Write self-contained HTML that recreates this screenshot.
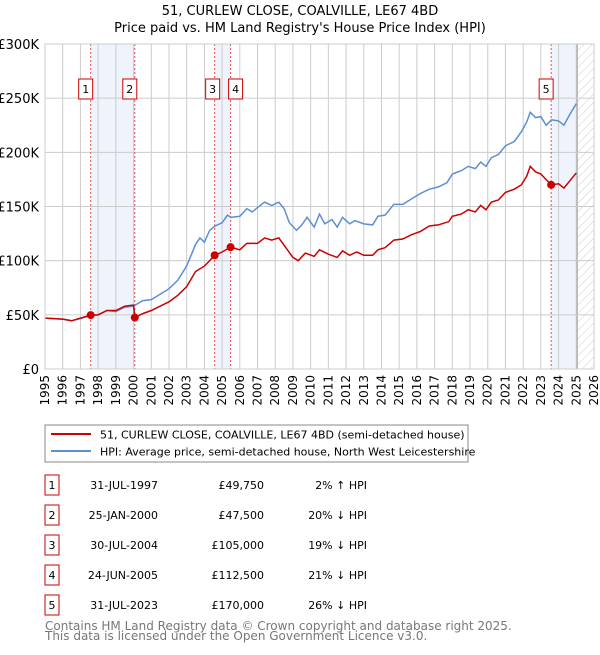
<!DOCTYPE html>
<html><head><meta charset="utf-8"><style>
body{margin:0;background:#fff;font-family:"Liberation Sans","DejaVu Sans",sans-serif}
svg text{font-family:"DejaVu Sans","Liberation Sans",sans-serif}
</style></head><body>
<svg id="c" width="600" height="650" xmlns="http://www.w3.org/2000/svg">
<defs><pattern id="hatch" width="6" height="6" patternUnits="userSpaceOnUse" patternTransform="rotate(45)"><line x1="0" y1="0" x2="0" y2="6" stroke="#ccc" stroke-width="1"/></pattern></defs>
<text x="300" y="15" text-anchor="middle" font-size="13">51, CURLEW CLOSE, COALVILLE, LE67 4BD</text>
<text x="300" y="32" text-anchor="middle" font-size="13">Price paid vs. HM Land Registry's House Price Index (HPI)</text>
<g id="plot"></g>
<rect x="45" y="425" width="423" height="37" fill="#fff" stroke="#888"/>
<line x1="51" y1="434" x2="91" y2="434" stroke="#cc0000" stroke-width="2"/>
<text x="100" y="438.5" font-size="11">51, CURLEW CLOSE, COALVILLE, LE67 4BD (semi-detached house)</text>
<line x1="51" y1="451" x2="91" y2="451" stroke="#5b8fd4" stroke-width="2"/>
<text x="100" y="455.5" font-size="11">HPI: Average price, semi-detached house, North West Leicestershire</text>
<g id="table" font-size="11"></g>
<text x="45" y="630" font-size="12" fill="#777">Contains HM Land Registry data © Crown copyright and database right 2025.</text>
<text x="45" y="640" font-size="12" fill="#777">This data is licensed under the Open Government Licence v3.0.</text>
</svg>
<script>
const yTicks=[0,50000,100000,150000,200000,250000,300000];
const yTickLabels=["£0","£50K","£100K","£150K","£200K","£250K","£300K"];
const years=[1995,1996,1997,1998,1999,2000,2001,2002,2003,2004,2005,2006,2007,2008,2009,2010,2011,2012,2013,2014,2015,2016,2017,2018,2019,2020,2021,2022,2023,2024,2025,2026];
const hpiT=[1995,1996,1996.5,1997,1997.5,1998,1998.5,1999,1999.5,2000,2000.5,2001,2001.5,2002,2002.5,2003,2003.5,2003.75,2004,2004.3,2004.6,2005,2005.3,2005.5,2006,2006.4,2006.7,2007,2007.4,2007.8,2008.2,2008.5,2008.8,2009.2,2009.5,2009.8,2010.2,2010.5,2010.8,2011.2,2011.5,2011.8,2012.2,2012.5,2013,2013.5,2013.8,2014.2,2014.7,2015.2,2015.7,2016.2,2016.7,2017.2,2017.7,2018,2018.5,2018.9,2019.3,2019.6,2019.9,2020.2,2020.6,2021,2021.5,2021.9,2022.2,2022.4,2022.7,2023,2023.3,2023.6,2024,2024.3,2024.6,2025];
const hpiV=[47,46,44.5,46.5,49,50,54,53,57,58,63,64,69,74,82,95,115,121,117,128,132,135,142,140,141,148,145,149,154,151,154,148,135,128,133,140,131,143,134,138,131,140,134,137,134,133,141,142,152,152,157,162,166,168,172,180,183,187,185,191,187,195,198,206,210,219,228,237,232,233,225,230,229,225,234,245];
const priceT=[1995,1996,1996.5,1997,1997.58,1998,1998.5,1999,1999.5,2000,2000.07,2000.5,2001,2001.5,2002,2002.5,2003,2003.5,2004,2004.3,2004.58,2005,2005.48,2006,2006.4,2007,2007.4,2007.8,2008.2,2008.6,2009,2009.3,2009.7,2010.2,2010.5,2011,2011.5,2011.8,2012.2,2012.6,2013,2013.5,2013.8,2014.2,2014.7,2015.2,2015.7,2016.2,2016.7,2017.2,2017.8,2018,2018.5,2018.9,2019.3,2019.6,2019.9,2020.2,2020.6,2021,2021.5,2021.9,2022.2,2022.4,2022.7,2023,2023.58,2024,2024.3,2024.7,2025];
const priceV=[47,46,44.5,47,49.75,50,54,54,58,59,47.5,51,54,58,62,68,76,90,95,100,105,108,112.5,110,116,116,121,119,121,112,103,100,107,104,110,106,103,109,105,108,105,105,110,112,119,120,124,127,132,133,136,141,143,147,145,151,147,154,156,163,166,170,178,187,182,180,170,171,167,175,181];
const saleT=[1997.58,2000.07,2004.58,2005.48,2023.58];
const saleV=[49750,47500,105000,112500,170000];
const saleDates=["31-JUL-1997","25-JAN-2000","30-JUL-2004","24-JUN-2005","31-JUL-2023"];
const salePrices=["£49,750","£47,500","£105,000","£112,500","£170,000"];
const saleHpi=["2% ↑ HPI","20% ↓ HPI","19% ↓ HPI","21% ↓ HPI","26% ↓ HPI"];
const dataEnd=2025.05;

const NS="http://www.w3.org/2000/svg";
const X0=45,X1=594,Y0=369,Y1=44;
const x=t=>X0+(t-1995)/(2026-1995)*(X1-X0);
const y=v=>Y0-v/300000*(Y0-Y1);
function mk(tag,at,parent){const e=document.createElementNS(NS,tag);for(const k in at)e.setAttribute(k,at[k]);parent.appendChild(e);return e;}
const g=document.getElementById('plot');
const spans=[[saleT[0],saleT[1]],[saleT[2],saleT[3]],[saleT[4],dataEnd]];
spans.forEach((s,i)=>{const r=mk('rect',{x:x(s[0]),y:Y1,width:x(s[1])-x(s[0]),height:Y0-Y1,fill:'#eef3fc'},g);

});
const hr=mk('rect',{x:x(dataEnd),y:Y1,width:X1-x(dataEnd),height:Y0-Y1,fill:'url(#hatch)'},g);


years.forEach(t=>{const l=mk('line',{x1:x(t),x2:x(t),y1:Y1,y2:Y0,stroke:'#ccc','stroke-width':1},g);


const tx=mk('text',{x:0,y:0,'font-size':12,'text-anchor':'end',transform:`translate(${x(t)+4},${Y0+6}) rotate(-90)`},g);tx.textContent=t;

});
const el=mk('line',{x1:x(dataEnd),x2:x(dataEnd),y1:Y1,y2:Y0,stroke:'#aaa','stroke-width':1.2},g);


yTicks.forEach((v,i)=>{const l=mk('line',{x1:X0,x2:X1,y1:y(v),y2:y(v),stroke:'#ccc','stroke-width':1},g);


const tx=mk('text',{x:X0-6,y:y(v)+5,'font-size':13,'text-anchor':'end'},g);tx.textContent=yTickLabels[i];

});
saleT.forEach((t,i)=>{const l=mk('line',{x1:x(t),x2:x(t),y1:Y1,y2:Y0,stroke:'#e05050','stroke-width':1,'stroke-dasharray':'2,2'},g);

});
const hp=mk('polyline',{points:hpiT.map((t,i)=>x(t)+','+y(hpiV[i]*1000)).join(' '),fill:'none',stroke:'#5b8fd4','stroke-width':1.5},g);


const pp=mk('polyline',{points:priceT.map((t,i)=>x(t)+','+y(priceV[i]*1000)).join(' '),fill:'none',stroke:'#cc0000','stroke-width':1.5},g);


saleT.forEach((t,i)=>{const c=mk('circle',{cx:x(t),cy:y(saleV[i]),r:4,fill:'#cc0000'},g);


const bx=(i==2)?x(t)-9:(i==3)?x(t)-2:x(t)-12;
const b=mk('rect',{x:bx,y:79,width:14,height:20,fill:'#fff',stroke:'#cc0000'},g);


const tx=mk('text',{x:bx+7,y:93,'font-size':11,'text-anchor':'middle'},g);tx.textContent=i+1;

});
mk('rect',{x:X0,y:Y1,width:X1-X0,height:Y0-Y1,fill:'none',stroke:'#ccc'},g);
const tb=document.getElementById('table');
saleT.forEach((t,i)=>{const yy=475+i*30;
const b=mk('rect',{x:45,y:yy,width:14,height:20,fill:'#fff',stroke:'#cc0000'},tb);


const cols=[[52,'middle',String(i+1)],[158,'end',saleDates[i]],[264,'end',salePrices[i]],[367,'end',saleHpi[i]]];
cols.forEach((c,j)=>{const tx=mk('text',{x:c[0],y:yy+14,'text-anchor':c[1]},tb);tx.textContent=c[2];

});});
</script>
</body></html>
